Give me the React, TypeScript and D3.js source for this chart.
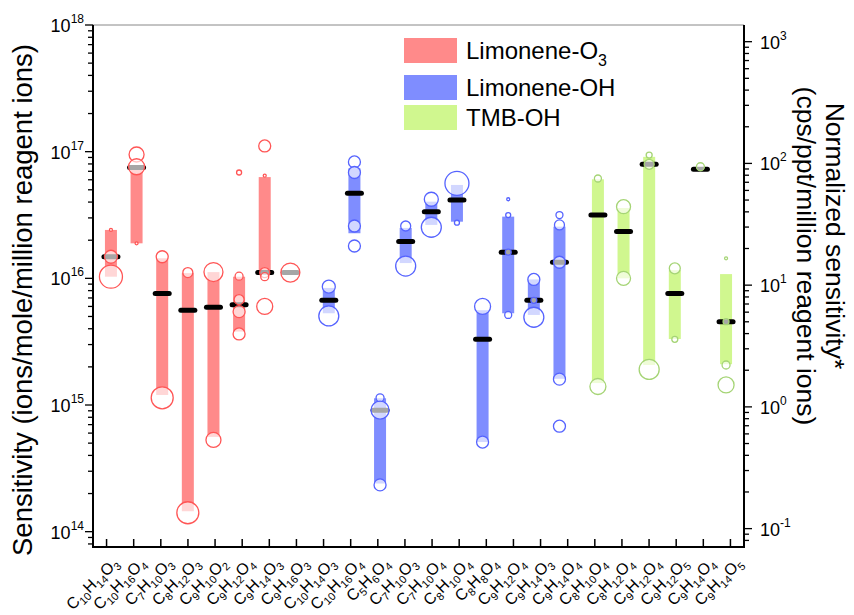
import React from 'react';
import * as d3 from 'd3';

// compound names shown under the x axis (one tick each)
const labels = ['C10H14O3', 'C10H16O4', 'C7H10O3', 'C8H12O3', 'C9H10O2', 'C9H12O4', 'C9H14O3', 'C9H16O3',
    'C10H14O3', 'C10H16O4', 'C5H6O4', 'C7H10O3', 'C7H10O4', 'C8H10O4', 'C8H8O4', 'C9H12O4', 'C9H14O3', 'C9H14O4',
    'C8H10O4', 'C8H12O4', 'C9H12O4', 'C9H12O5', 'C9H14O4', 'C9H14O5'];
// 0 = Limonene-O3, 1 = Limonene-OH, 2 = TMB-OH
const groups = [0, 0, 0, 0, 0, 0, 0, 0, 1, 1, 1, 1, 1, 1, 1, 1, 1, 1, 2, 2, 2, 2, 2, 2];
const xPos = [1, 2, 3, 4, 5, 6, 7, 8, 9.5, 10.5, 11.5, 12.5, 13.5, 14.5, 15.5, 16.5, 17.5, 18.5, 20, 21, 22, 23, 24, 25];
const seriesNames = ['Limonene-O3', 'Limonene-OH', 'TMB-OH'];

// range bars (ions/mole/million reagent ions)
const rangeLow = [1.03e16, 1.89e16, 1.2e15, 1.45e14, 5.6e14, 3.8e15, 1.11e16, 1.11e16,
    5.3e15, 2.27e16, 2.4e14, 1.32e16, 2.64e16, 2.8e16, 5.1e14, 5.3e15, 5.14e15, 1.61e15,
    1.49e15, 1.0e16, 2.07e15, 3.32e15, 7.26e16, 2.1e15];
const rangeHigh = [2.41e16, 7.6e16, 1.44e16, 1.1e16, 1.12e16, 1.03e16, 6.3e16, 1.11e16,
    8.4e15, 7.4e16, 1.13e15, 2.5e16, 4.03e16, 5.46e16, 5.6e15, 3.07e16, 9.8e15, 2.56e16,
    6.05e16, 3.59e16, 9.1e16, 1.16e16, 7.26e16, 1.08e16];
const medians = [1.48e16, 7.5e16, 7.6e15, 5.6e15, 5.9e15, 6.2e15, 1.11e16, 1.11e16,
    6.7e15, 4.7e16, 9.1e14, 1.95e16, 3.36e16, 4.16e16, 3.3e15, 1.61e16, 6.7e15, 1.34e16,
    3.16e16, 2.34e16, 7.95e16, 7.6e15, 7.26e16, 4.55e15];
// individual measurements: [sensitivity, marker size]
const points = [
    [[2.41e16, 1.5], [1.48e16, 6.5], [1.03e16, 11.5]],
    [[9.5e16, 7.5], [7.6e16, 8], [1.89e16, 1.5]],
    [[1.48e16, 6], [1.14e15, 11]],
    [[1.11e16, 5], [1.41e14, 11]],
    [[1.12e16, 9.5], [5.3e14, 7.5]],
    [[6.85e16, 2.5], [1.04e16, 4], [6.8e15, 5], [5.46e15, 6], [3.64e15, 6]],
    [[1.11e17, 6], [6.46e16, 1.5], [1.11e16, 5], [1.03e16, 4], [6.0e15, 8]],
    [[1.11e16, 9.5]],
    [[8.6e15, 6.5], [5.05e15, 10]],
    [[8.3e16, 6], [6.85e16, 6], [2.59e16, 6], [1.8e16, 6]],
    [[1.14e15, 4], [9.1e14, 9], [2.34e14, 6]],
    [[2.59e16, 5], [1.25e16, 10]],
    [[4.21e16, 7], [2.53e16, 10]],
    [[5.62e16, 12], [2.75e16, 2.5]],
    [[6.0e15, 8], [5.1e14, 6]],
    [[4.21e16, 1.5], [3.16e16, 2.5], [1.61e16, 3], [5.14e15, 3.5]],
    [[9.8e15, 6], [6.7e15, 3], [4.93e15, 10]],
    [[3.16e16, 3.5], [2.64e16, 5], [1.34e16, 6], [1.6e15, 6], [6.8e14, 6]],
    [[6.14e16, 3.5], [1.4e15, 8]],
    [[3.68e16, 7], [1.0e16, 7]],
    [[9.4e16, 3], [7.95e16, 5], [1.91e15, 10]],
    [[1.2e16, 5.5], [3.3e15, 3]],
    [[7.6e16, 4]],
    [[1.44e16, 1.5], [4.55e15, 3], [2.07e15, 4], [1.44e15, 8]],
];

const leftDecades = [14, 15, 16, 17, 18];
const rightDecades = [-1, 0, 1, 2, 3];

const barColors = ['#ff8a8a', '#7f8dff', '#d0f78f'];
const strokeColors = ['#ff5555', '#5563ff', '#a5d475'];
const font = 'Arial, "Liberation Sans", sans-serif';

const W = 854, H = 615;
const plot = {left: 93, right: 744, top: 25, bottom: 547};

const Formula = ({text, x, y}) => {
    let parts = [...text.matchAll(/([A-Z][a-z]?)(\d*)/g)];
    let out = [];
    let sub = false;
    parts.forEach((p, i) => {
        out.push(<tspan key={i + 'e'} fontSize={16} dy={sub ? -4 : 0}>{p[1]}</tspan>);
        sub = false;
        if (p[2]) {
            out.push(<tspan key={i + 's'} fontSize={11} dy={4}>{p[2]}</tspan>);
            sub = true;
        }
    });
    return <text transform={`translate(${x},${y}) rotate(-45)`} textAnchor="end" fontFamily={font}>{out}</text>;
};

const Pow = ({exp, x, y, anchor}) =>
    <text x={x} y={y} textAnchor={anchor} fontFamily={font} fontSize={18}>
        10<tspan fontSize={12} dy={-9}>{exp}</tspan>
    </text>;

export default function App() {
    let x = d3.scaleLinear().domain([0.3, 25.7]).range([plot.left, plot.right]);
    let tickX = d3.scalePoint().domain(labels.map((d, i) => i)).range([plot.left, plot.right]).padding(0.5);
    let yL = d3.scaleLog().domain([Math.pow(10, 13.879), 1e18]).range([plot.bottom, plot.top]);
    let yR = d3.scaleLog().domain([Math.pow(10, -1.151), Math.pow(10, 3.137)]).range([plot.bottom, plot.top]);

    let minor = (scale, decades) => {
        let t = [];
        let [a, b] = scale.domain();
        for (let d = decades[0] - 1; d <= decades[decades.length - 1]; d++) {
            for (let k = 1; k < 10; k++) {
                let v = k * Math.pow(10, d);
                if (v >= a * 0.999 && v <= b * 1.001) t.push({v, major: k === 1});
            }
        }
        return t;
    };

    return (
        <svg width={W} height={H} style={{position: 'absolute', left: 0, top: 0, background: '#fff'}}>
            {/* range bars */}
            {labels.map((l, i) =>
                <rect key={'b' + i} x={x(xPos[i]) - 6} width={12}
                      y={yL(rangeHigh[i])} height={Math.max(0, yL(rangeLow[i]) - yL(rangeHigh[i]))}
                      fill={barColors[groups[i]]}/>
            )}
            {/* medians */}
            {labels.map((l, i) =>
                <line key={'m' + i} x1={x(xPos[i]) - 7} x2={x(xPos[i]) + 7} y1={yL(medians[i])} y2={yL(medians[i])}
                      stroke="#000" strokeWidth={5} strokeLinecap="round"/>
            )}
            {/* individual points */}
            {points.map((ps, i) => ps.map((p, j) =>
                <circle key={'c' + i + '-' + j} cx={x(xPos[i])} cy={yL(p[0])} r={p[1]}
                        fill="rgba(255,255,255,0.65)" stroke={strokeColors[groups[i]]} strokeWidth={1.3}/>
            ))}

            {/* frame */}
            <line x1={plot.left} x2={plot.right} y1={plot.top} y2={plot.top} stroke="#888" strokeWidth={1}/>
            <line x1={plot.left} x2={plot.right} y1={plot.bottom} y2={plot.bottom} stroke="#000" strokeWidth={2}/>
            <line x1={plot.left} x2={plot.left} y1={plot.top} y2={plot.bottom + 1} stroke="#000" strokeWidth={2}/>
            <line x1={plot.right} x2={plot.right} y1={plot.top} y2={plot.bottom + 1} stroke="#000" strokeWidth={2}/>

            {/* left axis */}
            {minor(yL, leftDecades).map((t, i) =>
                <line key={'lt' + i} x1={plot.left} x2={plot.left - (t.major ? 8 : 5)} y1={yL(t.v)} y2={yL(t.v)}
                      stroke="#000" strokeWidth={1.3}/>
            )}
            {leftDecades.map(d => <Pow key={'ll' + d} exp={d} x={84} y={yL(Math.pow(10, d)) + 7} anchor="end"/>)}

            {/* right axis */}
            {minor(yR, rightDecades).map((t, i) =>
                <line key={'rt' + i} x1={plot.right} x2={plot.right + (t.major ? 8 : 5)} y1={yR(t.v)} y2={yR(t.v)}
                      stroke="#000" strokeWidth={1.3}/>
            )}
            {rightDecades.map(d => <Pow key={'rl' + d} exp={d} x={760} y={yR(Math.pow(10, d)) + 7} anchor="start"/>)}

            {/* bottom axis */}
            {labels.map((l, i) =>
                <g key={'xt' + i}>
                    <line x1={tickX(i)} x2={tickX(i)} y1={plot.bottom} y2={plot.bottom - 8} stroke="#000" strokeWidth={1.5}/>
                    <Formula text={l} x={tickX(i) + 13} y={564}/>
                </g>
            )}

            {/* titles */}
            <text transform={`translate(32,300) rotate(-90)`} textAnchor="middle" fontFamily={font} fontSize={27.5}>
                Sensitivity (ions/mole/million reagent ions)
            </text>
            <text transform={`translate(826,236) rotate(90)`} textAnchor="middle" fontFamily={font} fontSize={26.5}>
                Normalized sensitivity*
            </text>
            <text transform={`translate(797,256) rotate(90)`} textAnchor="middle" fontFamily={font} fontSize={26.5}>
                (cps/ppt/million reagent ions)
            </text>

            {/* legend */}
            {seriesNames.map((s, i) => {
                let ys = [38, 75, 105];
                return <g key={'lg' + i}>
                    <rect x={404} y={ys[i]} width={53} height={25} fill={barColors[i]}/>
                    <text x={466} y={ys[i] + 21} fontFamily={font} fontSize={24}>
                        {i === 0 ? <>Limonene-O<tspan fontSize={16} dy={7}>3</tspan></> : s}
                    </text>
                </g>;
            })}
        </svg>
    );
}
